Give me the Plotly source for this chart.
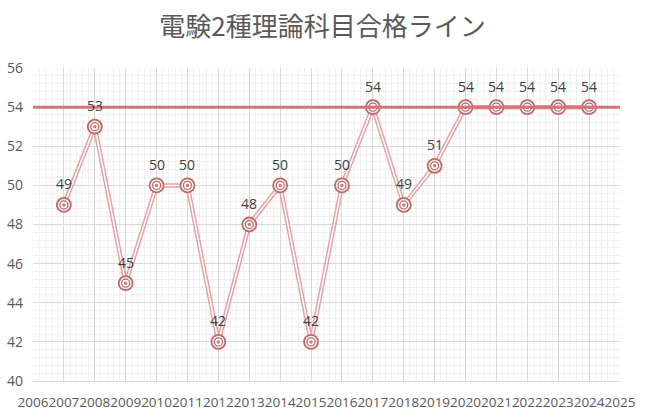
import plotly.graph_objects as go

years = [2007, 2008, 2009, 2010, 2011, 2012, 2013, 2014, 2015, 2016, 2017, 2018, 2019, 2020, 2021, 2022, 2023, 2024]
scores = [49, 53, 45, 50, 50, 42, 48, 50, 42, 50, 54, 49, 51, 54, 54, 54, 54, 54]
pass_line = 54
x_ticks = list(range(2006, 2026))
y_ticks = list(range(40, 57, 2))

fig = go.Figure()
# pass line
fig.add_shape(type="line", xref="paper", x0=0, x1=1, yref="y", y0=pass_line, y1=pass_line,
              line=dict(color="#d47474", width=3), layer="above")
# double line series
fig.add_trace(go.Scatter(x=years, y=scores, mode="lines", line=dict(color="#e6a3a3", width=4.5),
                         hoverinfo="skip", showlegend=False))
fig.add_trace(go.Scatter(x=years, y=scores, mode="lines", line=dict(color="#ffffff", width=1.5),
                         hoverinfo="skip", showlegend=False))
# markers: outer ring, inner ring, center dot
fig.add_trace(go.Scatter(x=years, y=scores, mode="markers",
                         marker=dict(symbol="circle", size=14, color="#fbf0f0",
                                     line=dict(color="#c06a6a", width=1.8)),
                         showlegend=False))
fig.add_trace(go.Scatter(x=years, y=scores, mode="markers",
                         marker=dict(symbol="circle", size=8, color="#ffffff",
                                     line=dict(color="#c06a6a", width=1.3)),
                         showlegend=False))
fig.add_trace(go.Scatter(x=years, y=scores, mode="markers",
                         marker=dict(symbol="circle", size=3.5, color="#c88080",
                                     line=dict(width=0)),
                         showlegend=False))

for xv, yv in zip(years, scores):
    fig.add_annotation(x=xv, y=yv, text=str(yv), showarrow=False, yshift=21,
                       font=dict(family="Open Sans, sans-serif", size=14, color="#404040"))

fig.update_layout(
    width=649, height=417,
    margin=dict(l=33, r=29, t=68, b=36, autoexpand=False),
    paper_bgcolor="white", plot_bgcolor="white",
    title=dict(text="電験2種理論科目合格ライン", x=0.497, xanchor="center", y=0.935, yanchor="middle",
               font=dict(family="Noto Sans CJK JP", size=26, color="#595959")),
    xaxis=dict(range=[2006, 2025], tickmode="array", tickvals=x_ticks, ticktext=[str(v) for v in x_ticks],
               tickangle=0, automargin=False,
               showgrid=True, gridcolor="#d9d9d9", gridwidth=1, zeroline=False,
               minor=dict(dtick=0.2, showgrid=True, gridcolor="#f0f0f0", gridwidth=1),
               showline=True, linecolor="#d9d9d9", ticks="", ticklabelstandoff=9,
               tickfont=dict(family="Open Sans, sans-serif", size=13.5, color="#595959")),
    yaxis=dict(range=[40, 56], tickmode="array", tickvals=y_ticks, automargin=False,
               showgrid=True, gridcolor="#d9d9d9", gridwidth=1, zeroline=False,
               minor=dict(dtick=0.4, showgrid=True, gridcolor="#f0f0f0", gridwidth=1),
               showline=False, ticks="", ticklabelstandoff=9,
               tickfont=dict(family="Open Sans, sans-serif", size=14, color="#595959")),
    font=dict(family="Open Sans, sans-serif"),
)
fig.write_html("out.html")
